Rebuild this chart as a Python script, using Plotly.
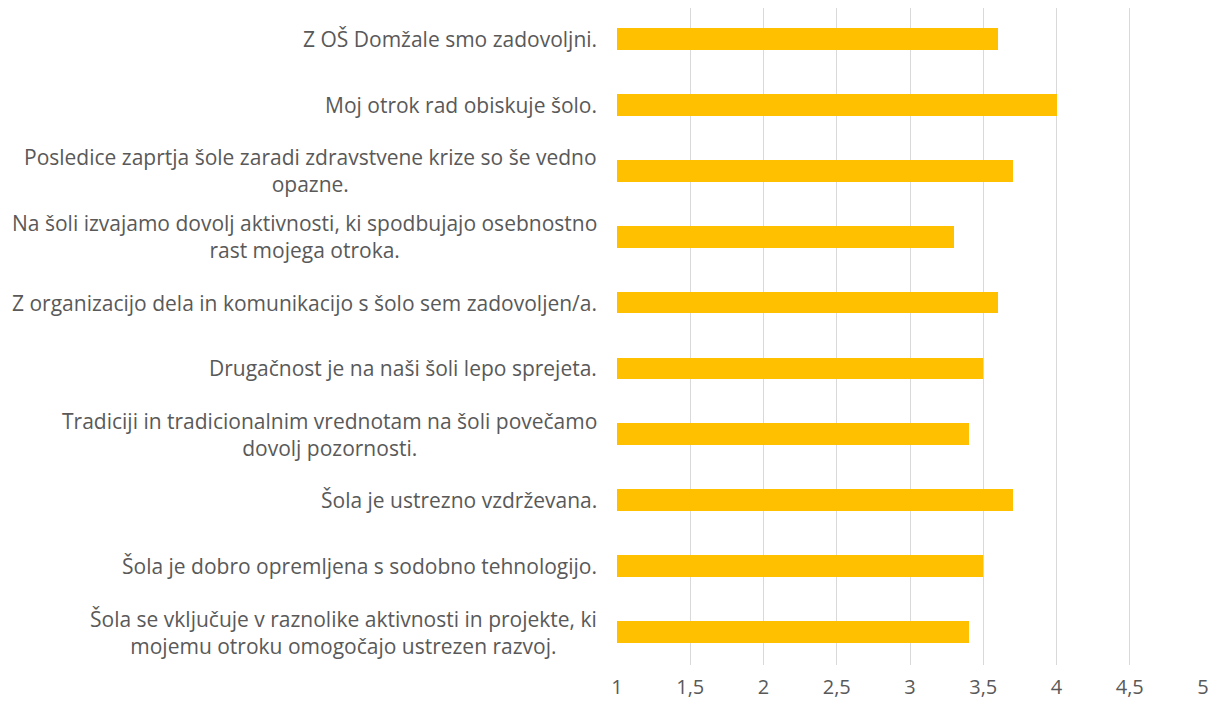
import plotly.graph_objects as go

categories = [
    "Z OŠ Domžale smo zadovoljni.",
    "Moj otrok rad obiskuje šolo.",
    "Posledice zaprtja šole zaradi zdravstvene krize so še vedno<br>opazne.",
    "Na šoli izvajamo dovolj aktivnosti, ki spodbujajo osebnostno<br>rast mojega otroka.",
    "Z organizacijo dela in komunikacijo s šolo sem zadovoljen/a.",
    "Drugačnost je na naši šoli lepo sprejeta.",
    "Tradiciji in tradicionalnim vrednotam na šoli povečamo<br>dovolj pozornosti.",
    "Šola je ustrezno vzdrževana.",
    "Šola je dobro opremljena s sodobno tehnologijo.",
    "Šola se vključuje v raznolike aktivnosti in projekte, ki<br>mojemu otroku omogočajo ustrezen razvoj.",
]
values = [3.6, 4.0, 3.7, 3.3, 3.6, 3.5, 3.4, 3.7, 3.5, 3.4]
tick_vals = [1, 1.5, 2, 2.5, 3, 3.5, 4, 4.5, 5]
tick_text = ["1", "1,5", "2", "2,5", "3", "3,5", "4", "4,5", "5"]

FONT = "Open Sans"
GRAY = "#595959"

fig = go.Figure(go.Bar(
    x=values, y=list(range(len(categories))), orientation="h",
    marker=dict(color="#FFC000", line=dict(width=0)),
    width=0.33,
))

annotations = []
for i, cat in enumerate(categories):
    annotations.append(dict(
        x=0, xref="paper", xanchor="right", xshift=-18,
        y=i, yref="y", yanchor="middle",
        text=cat, showarrow=False, align="center",
        font=dict(family=FONT, size=21, color=GRAY),
    ))

fig.update_layout(annotations=annotations)

fig.update_xaxes(
    range=[1, 5], tickvals=tick_vals, ticktext=tick_text,
    showgrid=True, gridcolor="#D9D9D9", gridwidth=1,
    zeroline=False, showline=False, ticks="",
    tickfont=dict(family=FONT, size=20, color=GRAY),
    ticklabelstandoff=8, automargin=False,
    fixedrange=True,
)
fig.update_yaxes(
    range=[9.5, -0.47], showticklabels=False, showgrid=False,
    zeroline=False, showline=False, ticks="", automargin=False,
)
fig.update_layout(
    width=1204, height=692,
    margin=dict(l=609, r=9, t=0, b=35),
    plot_bgcolor="white", paper_bgcolor="white",
    showlegend=False, bargap=0,
)
fig.write_html("out.html")
